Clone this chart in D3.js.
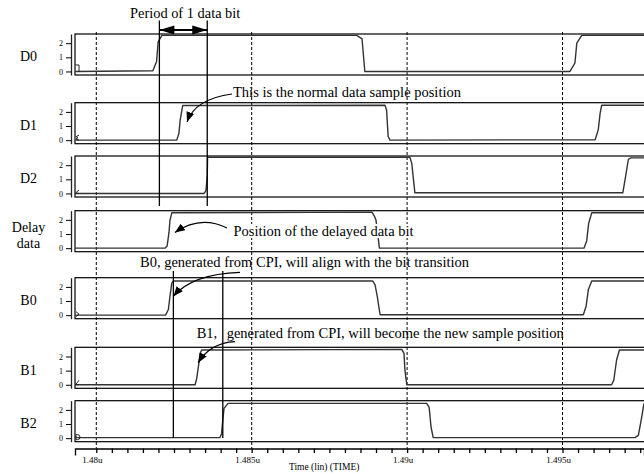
<!DOCTYPE html>
<html>
<head>
<meta charset="utf-8">
<script src="https://cdn.jsdelivr.net/npm/d3@7"></script>
<style>
  body { margin: 0; background: #fff; }
  text { font-family: "Liberation Serif", "Times New Roman", serif; fill: #000; }
</style>
</head>
<body>
<svg id="chart" width="644" height="473"></svg>
<script>
// ----- data (time in ns, level in volts) -----
const signalNames = ["D0", "D1", "D2", "Delay data", "B0", "B1", "B2"];

const d0Wave = [[1479.32,0],[1481.82,0.05],[1481.94,0.7],[1481.99,2.1],[1482.11,2.55],[1488.38,2.55],[1488.55,2.3],[1488.64,0],[1495.24,0],[1495.40,0.6],[1495.46,2.0],[1495.62,2.55],[1497.7,2.55]];
const d1Wave = [[1479.32,0],[1482.59,0],[1482.66,0.5],[1482.70,1.44],[1482.78,2.45],[1489.29,2.47],[1489.34,2.14],[1489.39,0.26],[1489.45,0],[1496.05,0.03],[1496.15,0.73],[1496.21,1.9],[1496.26,2.47],[1497.7,2.47]];
const d2Wave = [[1479.32,0],[1483.47,0],[1483.53,0.2],[1483.57,1.3],[1483.58,2.56],[1490.09,2.56],[1490.15,2.13],[1490.25,0.05],[1496.94,0.05],[1497.01,0.95],[1497.12,2.42],[1497.2,2.52],[1497.7,2.52]];
const delayWave = [[1479.32,0],[1482.21,0],[1482.28,0.16],[1482.34,1.13],[1482.37,1.97],[1482.43,2.5],[1488.87,2.55],[1488.96,2.21],[1489.00,1.97],[1489.11,0],[1495.69,0],[1495.78,0.53],[1495.84,1.74],[1495.94,2.5],[1497.7,2.5]];
const b0Wave = [[1479.32,0],[1482.23,0],[1482.32,0.4],[1482.37,1.33],[1482.43,2.26],[1482.48,2.42],[1488.89,2.42],[1488.97,2.14],[1489.04,1.33],[1489.13,0.03],[1495.67,0.03],[1495.76,0.63],[1495.83,1.79],[1495.94,2.42],[1497.7,2.42]];
const b1Wave = [[1479.32,0],[1483.18,0],[1483.23,0.44],[1483.30,1.51],[1483.34,2.22],[1483.39,2.46],[1489.83,2.5],[1489.90,2.22],[1489.93,1.03],[1489.99,0],[1496.58,0],[1496.65,0.32],[1496.74,1.75],[1496.83,2.46],[1497.7,2.46]];
const b2Wave = [[1479.32,0.04],[1483.98,0.04],[1484.03,0.32],[1484.07,1.27],[1484.11,2.11],[1484.24,2.46],[1490.63,2.46],[1490.71,2.18],[1490.77,0.79],[1490.84,0.04],[1497.33,0.04],[1497.44,0.2],[1497.55,1.51],[1497.62,2.46]];
const waves = [d0Wave, d1Wave, d2Wave, delayWave, b0Wave, b1Wave, b2Wave];

const cursorTimesTop = [1482.03, 1483.57];     // period of one data bit
const cursorTimesBottom = [1482.48, 1484.07];  // B0 / B1 edges
const majorTicks = [1480, 1485, 1490, 1495];
const majorLabels = ["1.48u", "1.485u", "1.49u", "1.495u"];
const levelTicks = [0, 1, 2];

// annotation: text, arrow tip (time, panel, level)
const notes = [
  { text: "This is the normal data sample position", tip: [1482.92, 1, 1.29] },
  { text: "Position of the delayed data bit", tip: [1482.53, 3, 1.1] },
  { text: "B0, generated from CPI, will align with the bit transition", tip: [1482.48, 4, 1.33] },
  { text: "generated from CPI, will become the new sample position", tip: [1483.28, 5, 1.55] }
];

// ----- layout -----
const svg = d3.select("#chart");
const plotLeft = 75, plotRight = 644;
const panelTop = [34, 102.7, 156, 210.7, 277.7, 347.3, 400.7];
const panelH = 41;
const axisY = 448.5;

const x = d3.scaleLinear().domain([1479.315, 1497.622]).range([plotLeft, plotRight]);
const yScales = panelTop.map(t => d3.scaleLinear().domain([-0.25, 2.65]).range([t + panelH, t]));

// dashed grid at major ticks
svg.append("g").selectAll("line")
   .data(majorTicks)
   .join("line")
   .attr("x1", d => x(d)).attr("x2", d => x(d))
   .attr("y1", 32).attr("y2", axisY)
   .attr("stroke", "#000").attr("stroke-width", 1)
   .attr("stroke-dasharray", "3,2");

// panels
const panels = svg.append("g").selectAll("g")
   .data(signalNames)
   .join("g");

panels.append("rect")
   .attr("x", plotLeft)
   .attr("y", (d, i) => panelTop[i])
   .attr("width", plotRight - plotLeft + 10)
   .attr("height", panelH)
   .attr("fill", "none")
   .attr("stroke", "#000")
   .attr("stroke-width", 1.2);

panels.each(function (name, i) {
  const g = d3.select(this);
  const axis = d3.axisLeft(yScales[i]).tickValues(levelTicks).tickFormat(d3.format("d"))
                 .tickSize(5).tickSizeOuter(0).tickPadding(3);
  const ag = g.append("g").attr("transform", "translate(71,0)").call(axis);
  ag.select(".domain").attr("stroke-width", 1.3).attr("stroke", "#222");
  ag.selectAll("text").style("font-size", "8px").style("font-family", "'Liberation Serif', serif");

  // signal waveform
  const line = d3.line().x(d => x(d[0])).y(d => yScales[i](d[1]));
  g.append("path")
   .datum(waves[i])
   .attr("d", line)
   .attr("fill", "none")
   .attr("stroke", "#333")
   .attr("stroke-width", 1.4)
   .attr("stroke-linejoin", "round");

  // label
  const lines = name.split(" ");
  const cy = yScales[i](1) + 4;
  g.append("text")
   .attr("text-anchor", "middle")
   .attr("x", 28.5)
   .attr("y", lines.length > 1 ? cy - 6 : cy)
   .style("font-size", "14px")
   .selectAll("tspan")
   .data(lines)
   .join("tspan")
   .attr("x", 28.5)
   .attr("dy", (d, k) => k === 0 ? 0 : 16)
   .text(d => d);
});

// little trace markers at the left edge
const markerPaths = ["M75.5,-6.5h3.5v6.5", "M79,-5l-3,1.5l2,1l-2,1.5l3,1", "M79,-3.5l-3.5,3l3.5,0.5", null,
                     "M76,-3.5l3,2.5l-3,2.5", "M79,-4.5l-3.5,4.5h3", "M76,-3.5h1.5a2.5,2.5 0 0 1 0,5h-1.5z"];
svg.append("g").selectAll("path")
   .data(markerPaths.map((p, i) => ({ p, i })).filter(d => d.p))
   .join("path")
   .attr("transform", d => `translate(0,${yScales[d.i](0)})`)
   .attr("d", d => d.p)
   .attr("fill", "none")
   .attr("stroke", "#222")
   .attr("stroke-width", 1);

// cursor lines
svg.append("g").selectAll("line")
   .data(cursorTimesTop)
   .join("line")
   .attr("x1", d => x(d)).attr("x2", d => x(d))
   .attr("y1", 20.5).attr("y2", 206)
   .attr("stroke", "#000").attr("stroke-width", 1.3);
svg.append("g").selectAll("line")
   .data(cursorTimesBottom)
   .join("line")
   .attr("x1", d => x(d)).attr("x2", d => x(d))
   .attr("y1", 271).attr("y2", 438)
   .attr("stroke", "#000").attr("stroke-width", 1.3);

// bottom time axis
const xAxis = d3.axisBottom(x)
   .tickValues(d3.range(1480, 1497.6, 0.5))
   .tickSize(4.5).tickSizeOuter(7)
   .tickFormat("");
const xg = svg.append("g").attr("transform", `translate(0,${axisY})`).call(xAxis);
xg.select(".domain").attr("stroke-width", 1.3);
xg.selectAll(".tick line").attr("stroke-width", 1.3);

svg.append("g").selectAll("text")
   .data(majorTicks)
   .join("text")
   .attr("x", d => x(d) - 4)
   .attr("y", 463)
   .attr("text-anchor", "middle")
   .style("font-size", "9px")
   .text((d, i) => majorLabels[i]);

svg.append("text")
   .attr("x", 289).attr("y", 469.5)
   .style("font-size", "9.5px")
   .text("Time (lin) (TIME)");

// period annotation with double-headed arrow
svg.append("text").attr("x", 130).attr("y", 18).style("font-size", "14.4px").text("Period of 1 data bit");
const ax1 = x(cursorTimesTop[0]), ax2 = x(cursorTimesTop[1]), ay = 30;
svg.append("line").attr("x1", ax1).attr("x2", ax2).attr("y1", ay).attr("y2", ay)
   .attr("stroke", "#000").attr("stroke-width", 2);
svg.append("path").attr("d", `M${ax1},${ay}l15,-4.5l0,9z`).attr("fill", "#000");
svg.append("path").attr("d", `M${ax2},${ay}l-15,-4.5l0,9z`).attr("fill", "#000");

// curved arrows
svg.append("defs").append("marker")
   .attr("id", "head")
   .attr("markerUnits", "userSpaceOnUse")
   .attr("markerWidth", 10).attr("markerHeight", 8)
   .attr("refX", 10).attr("refY", 4)
   .attr("orient", "auto")
   .append("path").attr("d", "M0,0L10,4L0,8z").attr("fill", "#000");

const noteText = [
  { x: 233, y: 96.5, start: [232, 94], ctrl: [195, 99] },
  { x: 233.5, y: 236, start: [227, 228], ctrl: [200, 215], bg: true },
  { x: 140, y: 267, start: [240, 272.3], ctrl: [192, 274] },
  { x: 226.7, y: 338, start: [235, 341.7], ctrl: [210, 343] }
];

notes.forEach((n, k) => {
  const s = noteText[k];
  const tx = x(n.tip[0]), ty = yScales[n.tip[1]](n.tip[2]);
  const t = svg.append("text").attr("x", s.x).attr("y", s.y).style("font-size", "14.5px").text(n.text);
  if (s.bg) {
    const bb = t.node().getBBox();
    svg.insert("rect", () => t.node())
       .attr("x", bb.x - 1).attr("y", bb.y + 1).attr("width", bb.width + 2).attr("height", bb.height - 2)
       .attr("fill", "#fff");
  }
  svg.append("path")
     .attr("d", `M${s.start[0]},${s.start[1]}Q${s.ctrl[0]},${s.ctrl[1]} ${tx},${ty}`)
     .attr("fill", "none").attr("stroke", "#000").attr("stroke-width", 1.2)
     .attr("marker-end", "url(#head)");
});
svg.append("text").attr("x", 196.7).attr("y", 338).style("font-size", "14.5px").text("B1,");
</script>
</body>
</html>
